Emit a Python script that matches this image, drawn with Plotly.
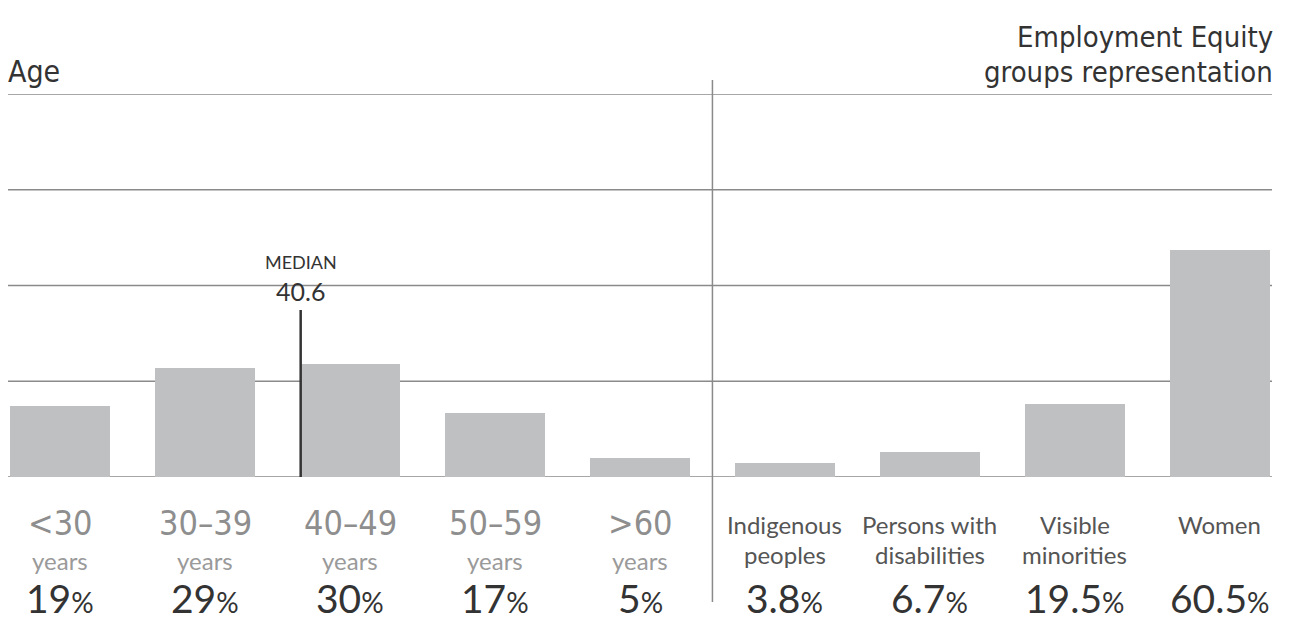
import plotly.graph_objects as go

# ---- data ----
age_groups = ["<30", "30\u201339", "40\u201349", "50\u201359", ">60"]
age_sub = ["years", "years", "years", "years", "years"]
age_pct = [19, 29, 30, 17, 5]
age_pct_labels = ["19", "29", "30", "17", "5"]

ee_line1 = ["Indigenous", "Persons with", "Visible", "Women"]
ee_line2 = ["peoples", "disabilities", "minorities", ""]
ee_pct = [3.8, 6.7, 19.5, 60.5]
ee_pct_labels = ["3.8", "6.7", "19.5", "60.5"]

median_age = 40.6
grid_values = [0, 25.5, 51, 76.5, 102]

# ---- layout constants ----
W, H = 1292, 621
PT, PB = 94, 477          # plot top / bottom in pixels
PL, PR = 8, 1272
BAR_COLOR = "#bec0c2"
GRID_COLOR = "#8a8a8a"
DARK = "#333333"
COND = "DejaVu Sans Condensed, Liberation Sans Narrow"

def py(p):
    return (PB - p) / (PB - PT)

n_age = len(age_groups)
x_age = list(range(n_age))
x_ee = [n_age + i for i in range(len(ee_pct))]
bar_w = 0.69

fig = go.Figure()
fig.add_trace(go.Bar(x=x_age + x_ee, y=age_pct + ee_pct, width=bar_w,
                     marker=dict(color=BAR_COLOR, line=dict(width=0)),
                     hoverinfo="skip", showlegend=False))

# gridlines
for g in grid_values:
    fig.add_shape(type="line", xref="paper", yref="y", x0=0, x1=1, y0=g, y1=g,
                  line=dict(color=GRID_COLOR, width=1.5), layer="below")

# divider between the two groups
div_x = n_age - 0.5
fig.add_shape(type="line", xref="x", yref="paper", x0=div_x, x1=div_x,
              y0=py(602), y1=py(80), line=dict(color=GRID_COLOR, width=1.5))

# median line
med_x = 2 - bar_w / 2 + (median_age - 40) / 10 * 0.05
fig.add_shape(type="line", xref="x", yref="paper", x0=med_x, x1=med_x,
              y0=0, y1=py(310), line=dict(color=DARK, width=2.5))
fig.add_annotation(x=med_x, xref="x", y=py(262), yref="paper", text="MEDIAN",
                   showarrow=False, font=dict(family="Lato", size=18, color=DARK),
                   xanchor="center", yanchor="middle")
fig.add_annotation(x=med_x, xref="x", y=py(291), yref="paper", text=f"{median_age}",
                   showarrow=False, font=dict(family="Lato", size=25, color=DARK),
                   xanchor="center", yanchor="middle")

# titles
fig.add_annotation(x=0, xref="paper", y=py(72), yref="paper", text="Age",
                   showarrow=False, font=dict(family=COND, size=30, color=DARK),
                   xanchor="left", yanchor="middle", xshift=-2)
fig.add_annotation(x=1, xref="paper", y=py(37), yref="paper", text="Employment Equity",
                   showarrow=False, font=dict(family=COND, size=29, color=DARK),
                   xanchor="right", yanchor="middle", xshift=3)
fig.add_annotation(x=1, xref="paper", y=py(72), yref="paper", text="groups representation",
                   showarrow=False, font=dict(family=COND, size=29, color=DARK),
                   xanchor="right", yanchor="middle", xshift=3)

pct_span = "<span style='font-size:28px'>%</span>"

# category labels under age bars
for xi, lab, sub, pl in zip(x_age, age_groups, age_sub, age_pct_labels):
    fig.add_annotation(x=xi, xref="x", y=py(523), yref="paper", text=lab, showarrow=False,
                       font=dict(family=COND, size=34, color="#8e8e8e"),
                       xanchor="center", yanchor="middle")
    fig.add_annotation(x=xi, xref="x", y=py(560), yref="paper", text=sub, showarrow=False,
                       font=dict(family="Lato", size=24, color="#9a9a9a"),
                       xanchor="center", yanchor="middle")
    fig.add_annotation(x=xi, xref="x", y=py(598), yref="paper",
                       text=f"{pl}{pct_span}", showarrow=False,
                       font=dict(family="Lato", size=39, color=DARK),
                       xanchor="center", yanchor="middle")

# labels under EE bars
for xi, l1, l2, pl in zip(x_ee, ee_line1, ee_line2, ee_pct_labels):
    fig.add_annotation(x=xi, xref="x", y=py(524), yref="paper", text=l1, showarrow=False,
                       font=dict(family="Lato", size=24, color="#555555"),
                       xanchor="center", yanchor="middle")
    if l2:
        fig.add_annotation(x=xi, xref="x", y=py(554), yref="paper", text=l2, showarrow=False,
                           font=dict(family="Lato", size=24, color="#555555"),
                           xanchor="center", yanchor="middle")
    fig.add_annotation(x=xi, xref="x", y=py(598), yref="paper",
                       text=f"{pl}{pct_span}", showarrow=False,
                       font=dict(family="Lato", size=39, color=DARK),
                       xanchor="center", yanchor="middle")

fig.update_layout(
    width=W, height=H,
    margin=dict(l=PL, r=W - PR, t=PT, b=H - PB, pad=0),
    paper_bgcolor="white", plot_bgcolor="white",
    bargap=0,
    xaxis=dict(range=[-0.362, len(x_age) + len(x_ee) - 1 + 0.362], showgrid=False,
               zeroline=False, showticklabels=False, showline=False, fixedrange=True),
    yaxis=dict(range=[0, grid_values[-1]], showgrid=False, zeroline=False,
               showticklabels=False, showline=False, fixedrange=True),
)

fig.write_html("out.html")
